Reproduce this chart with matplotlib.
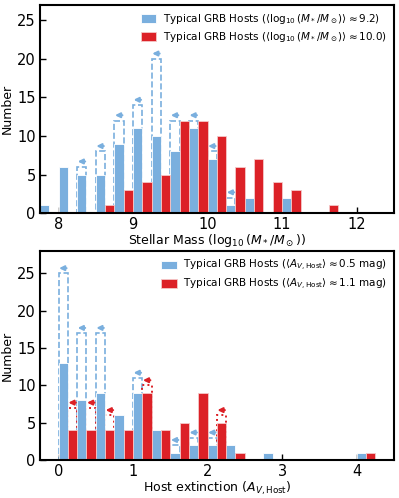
import numpy as np
import matplotlib
matplotlib.use('Agg')
import matplotlib.pyplot as plt

# stellar mass histogram, left bin edges (bin width 0.25 dex)
mass_edges = np.arange(7.75, 11.76, 0.25)
mass_typ = [1, 6, 5, 5, 9, 11, 10, 8, 11, 7, 1, 2, 0, 2, 0, 0, 0]
mass_typ_lim = [1, 6, 6, 8, 12, 14, 20, 12, 12, 8, 2, 2, 0, 2, 0, 0, 0]
mass_dust = [0, 0, 0, 1, 3, 4, 5, 12, 12, 10, 6, 7, 4, 3, 0, 1, 0]
mass_dust_lim = mass_dust

# host extinction histogram, left bin edges (bin width 0.25 mag)
av_edges = np.arange(0.0, 4.01, 0.25)
av_typ = [13, 8, 9, 6, 9, 4, 1, 2, 2, 2, 0, 1, 0, 0, 0, 0, 1]
av_typ_lim = [25, 17, 17, 6, 11, 4, 2, 3, 3, 2, 0, 1, 0, 0, 0, 0, 1]
av_dust = [4, 4, 4, 4, 9, 4, 5, 9, 5, 1, 0, 0, 0, 0, 0, 0, 1]
av_dust_lim = [7, 7, 6, 4, 10, 4, 5, 9, 6, 1, 0, 0, 0, 0, 0, 0, 1]

blue = '#7aafde'
red = '#dc2127'


def drawPanel(ax, edges, typ, typLim, dust, dustLim, labels):
    w = 0.25 / 2
    xb = np.asarray(edges) + w / 2
    xr = np.asarray(edges) + 1.5 * w
    typ = np.array(typ); typLim = np.array(typLim)
    dust = np.array(dust); dustLim = np.array(dustLim)
    # upper-limit outlines
    mb = typLim > typ
    mr = dustLim > dust
    ax.bar(xb[mb], typLim[mb], width=w, fill=False, edgecolor=blue,
           linestyle='--', linewidth=1.2, zorder=1)
    ax.bar(xr[mr], dustLim[mr], width=w, fill=False, edgecolor=red,
           linestyle=':', linewidth=1.4, zorder=1)
    ax.bar(xb, typ, width=w, color=blue, edgecolor='white', linewidth=0.6,
           zorder=2, label=labels[0])
    ax.bar(xr, dust, width=w, color=red, edgecolor='#f5c8c8', linewidth=0.6,
           zorder=2, label=labels[1])
    for x, y in zip(xb[mb], typLim[mb]):
        ax.annotate('', xy=(x - 0.055, y + 0.7), xytext=(x + 0.045, y + 0.7),
                    arrowprops=dict(arrowstyle='-|>', color=blue, lw=1.5,
                                    mutation_scale=7, shrinkA=0, shrinkB=0))
    for x, y in zip(xr[mr], dustLim[mr]):
        ax.annotate('', xy=(x - 0.055, y + 0.7), xytext=(x + 0.045, y + 0.7),
                    arrowprops=dict(arrowstyle='-|>', color=red, lw=1.5,
                                    mutation_scale=7, shrinkA=0, shrinkB=0))
    ax.tick_params(direction='in', labelsize=10.5, width=1, length=4, pad=3)
    for s in ax.spines.values():
        s.set_linewidth(1.5)
    ax.set_ylabel('Number', fontsize=9, labelpad=2)
    ax.legend(loc='upper right', frameon=False, fontsize=7.5,
              handlelength=1.5, handleheight=0.9, handletextpad=0.6,
              borderaxespad=0.3, labelspacing=0.35)


fig = plt.figure(figsize=(3.99, 4.98), dpi=100)
ax1 = fig.add_axes([0.100, 0.572, 0.887, 0.418])
ax2 = fig.add_axes([0.100, 0.076, 0.887, 0.420])

drawPanel(ax1, mass_edges, mass_typ, mass_typ_lim, mass_dust, mass_dust_lim,
          [r'Typical GRB Hosts ($\langle\log_{10}(M_*/M_\odot)\rangle\approx9.2$)',
           r'Typical GRB Hosts ($\langle\log_{10}(M_*/M_\odot)\rangle\approx10.0$)'])
ax1.set_xlim(7.75, 12.5)
ax1.set_ylim(0, 27)
ax1.set_xticks([8, 9, 10, 11, 12])
ax1.set_yticks([0, 5, 10, 15, 20, 25])
ax1.set_xlabel(r'Stellar Mass ($\log_{10}(M_*/M_\odot)$)', fontsize=9, labelpad=0)

drawPanel(ax2, av_edges, av_typ, av_typ_lim, av_dust, av_dust_lim,
          [r'Typical GRB Hosts ($\langle A_{V,\rm Host}\rangle\approx0.5$ mag)',
           r'Typical GRB Hosts ($\langle A_{V,\rm Host}\rangle\approx1.1$ mag)'])
ax2.set_xlim(-0.25, 4.5)
ax2.set_ylim(0, 28)
ax2.set_xticks([0, 1, 2, 3, 4])
ax2.set_yticks([0, 5, 10, 15, 20, 25])
ax2.set_xlabel(r'Host extinction ($A_{V,\rm Host}$)', fontsize=9, labelpad=0)

fig.savefig('out.png', dpi=100)
